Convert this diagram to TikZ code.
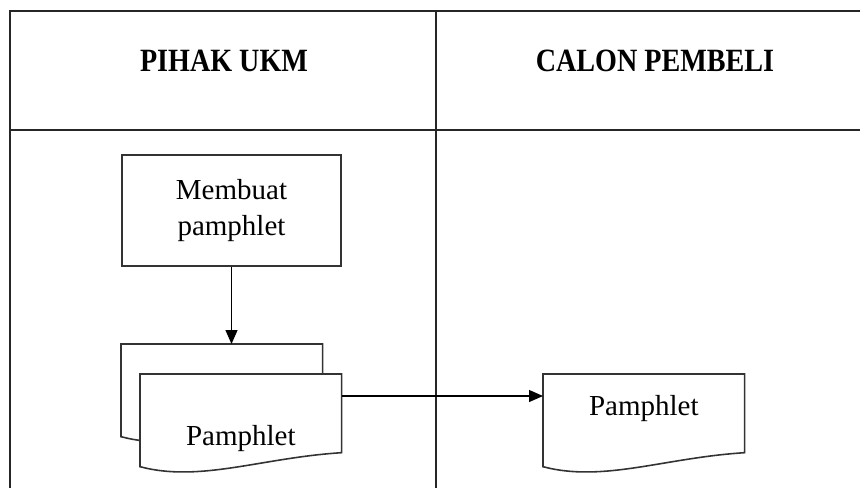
\documentclass[tikz,border=0pt]{standalone}
\usepackage{fontspec}
\setmainfont{Liberation Serif}
\usetikzlibrary{positioning,arrows.meta,calc,backgrounds}
\tikzset{
  % swimlane table lines
  lane/.style  = {line width=1.2pt, black!85},
  % lane header text
  head/.style  = {font=\fontsize{16.5}{20}\selectfont\bfseries},
  % process box
  proc/.style  = {rectangle, draw=black!80, line width=0.9pt, fill=white,
                  align=center, inner sep=2pt, minimum width=4.38cm,
                  minimum height=2.22cm, font=\fontsize{16.5}{21}\selectfont},
  % document frame (wavy outline drawn by \docoutline)
  doc/.style   = {rectangle, inner sep=0pt, minimum width=4.02cm,
                  minimum height=1.84cm, font=\fontsize{16.5}{19}\selectfont},
  % arrows
  flow/.style  = {-{Triangle[length=2.8mm, width=2.4mm]}, line width=0.7pt, black},
}
\newcommand{\docoutline}[1]{%
  \draw[draw=black!80, line width=0.9pt, fill=white]
    (#1.south west) -- (#1.north west) -- (#1.north east)
    -- ($(#1.south east)+(0,-14)$)
    .. controls +(-80,5) and +(60,16) .. (#1.south west) -- cycle;}

\begin{document}
\begin{tikzpicture}[x=0.02cm, y=-0.02cm]
  \useasboundingbox (0,0) rectangle (860,488);

  % swimlane table
  \draw[lane] (860,11) -- (10,11) -- (10,488);
  \draw[lane] (10,130) -- (860,130);
  \draw[lane] (436,11) -- (436,488);
  \node[head] (ukm)     at (224,61) {\scalebox{0.97}[1.12]{PIHAK UKM}};
  \node[head] (pembeli) at (655,61) {\scalebox{0.97}[1.12]{CALON PEMBELI}};

  % PIHAK UKM lane
  \node[proc] (buat) at (231.5,210.5) {Membuat\\pamphlet};
  \node[doc, anchor=north west] (pamb) at (121,344) {};
  \node[doc, anchor=north west, text height=1.3cm, text depth=0.3cm]
       (pamf) at (140,374) {Pamphlet};

  % CALON PEMBELI lane
  \node[doc, anchor=north west, text height=0.4cm, text depth=0.6cm]
       (pamc) at (543,374) {Pamphlet};

  % document outlines, behind the texts
  \begin{scope}[on background layer]
    \docoutline{pamb}
    \docoutline{pamf}
    \docoutline{pamc}
  \end{scope}

  % --- edges ---
  \draw[flow] (buat) -- (buat |- pamb.north);
  \coordinate (kirim) at ($(pamf.north east)+(0,22)$);
  \draw[flow] (kirim) -- (kirim -| pamc.west);

\end{tikzpicture}
\end{document}
